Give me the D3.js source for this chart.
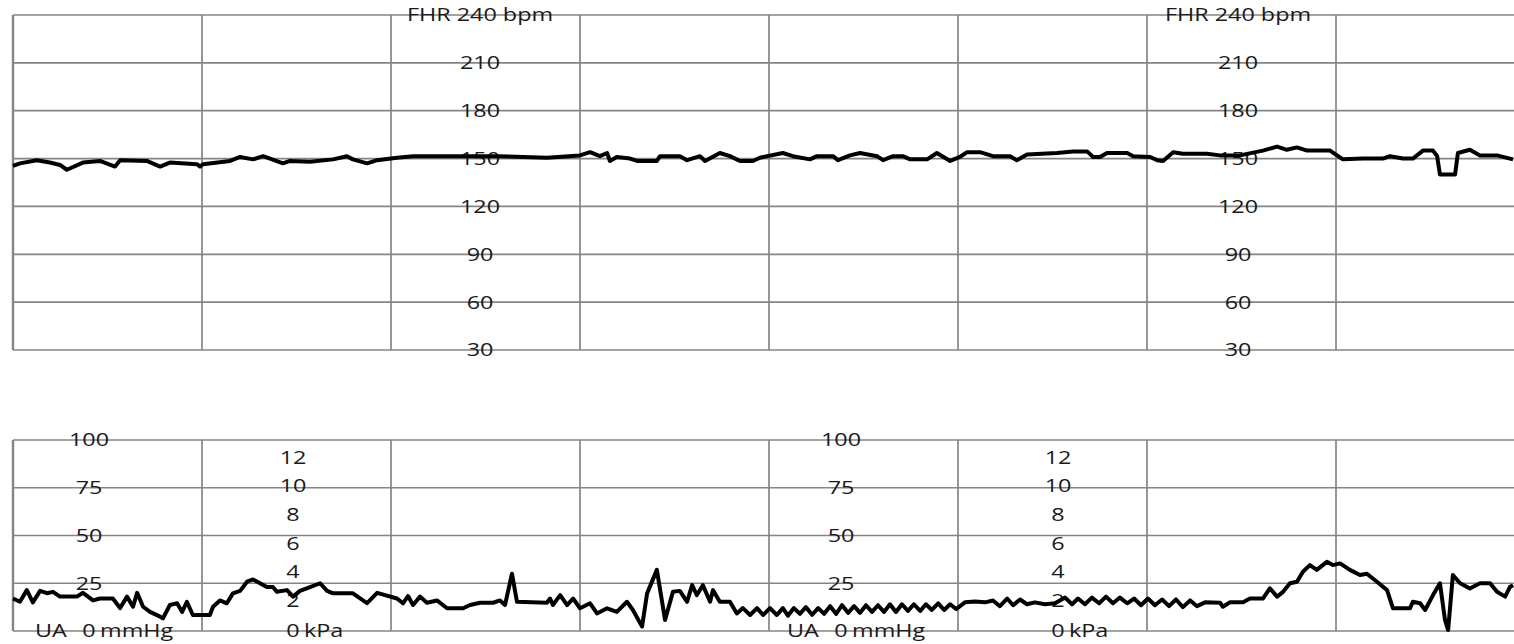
<!DOCTYPE html>
<html>
<head>
<meta charset="utf-8">
<script src="https://cdn.jsdelivr.net/npm/d3@7"></script>
<style>
  body { margin: 0; background: #fff; }
  text { font-family: "Open Sans", "DejaVu Sans", sans-serif; fill: #1a1a1a; }
</style>
</head>
<body>
<div id="chart"></div>
<script>
// time in seconds (one grid column = 60 s)
var fhrSec = [0, 2.2, 7.6, 11.7, 14.9, 17.1, 22.2, 27.6, 32.4, 34, 42.5, 46.7, 49.8, 58.4, 59.4, 60.3, 68.9, 72.1, 76.2, 79.4,
  85.7, 87.9, 94.3, 101.6, 106, 107.9, 112.4, 115.6, 121.9, 127, 148.3, 153.7, 169.5, 180, 183.2, 186.3, 188.6, 189.5, 191.7, 195.9,
  198.1, 204.4, 205.4, 211.7, 214, 218.1, 219.7, 224.4, 227.6, 230.8, 234.9, 237.1, 244.4, 247.6, 253, 255.2, 260.3, 261.9, 265.7, 268.9,
  274.3, 276.2, 279.4, 282.5, 284.8, 290.2, 293.3, 297.5, 300.6, 302.9, 307, 311.1, 316.5, 318.7, 321.9, 331.4, 336.5, 341, 342.9, 345.1,
  347.3, 353.7, 355.6, 361, 363.2, 365.1, 368.3, 371.4, 379, 383.2, 389.5, 396.8, 401.3, 404.4, 407.6, 410.8, 418.1, 422.2, 428.6, 434.9,
  437.1, 441.3, 444.4, 447.6, 450.8, 452.1, 453, 457.8, 458.7, 462.5, 465.7, 471.1, 476.2]
var fhrBpm = [145.4, 147, 149, 147.5, 146, 143, 147.5, 148.5, 145, 149, 148.5, 145, 147.5, 146.5, 145, 146.5, 148.5, 151, 149.5, 151.5,
  147, 148.5, 148, 149.5, 151.5, 149.5, 147, 149, 150.5, 151.5, 151.5, 151.5, 150.5, 152, 154, 151.5, 153.5, 148.5, 151, 150,
  148.5, 148.5, 151.5, 151.5, 149, 151.5, 148.5, 153.5, 151.5, 148.5, 148.5, 150.5, 153.5, 151.5, 149.5, 151.5, 151.5, 149, 152, 153.5,
  151.5, 149, 151.5, 151.5, 149.5, 149.5, 153.5, 148.5, 151, 154, 154, 151.5, 151.5, 149, 152.5, 153.5, 154.5, 154.5, 151, 151,
  153.5, 153.5, 151.5, 151, 149, 148.5, 154, 153, 153, 152, 152, 155, 157.5, 155.5, 157, 155, 155, 149.5, 150, 150,
  151.5, 150, 150, 155, 155, 151.5, 140, 140, 153.5, 155.5, 152, 152, 149.5]

var uaSec = [0, 2.2, 4.4, 6.3, 8.6, 10.8, 12.7, 14.9, 20.3, 22.2, 25.4, 27.6, 31.7, 34, 36.2, 38.1, 39.4, 41.3, 43.5, 46.7,
  47.6, 49.8, 52.1, 53.7, 55.2, 57.1, 62.5, 63.5, 65.7, 67.9, 69.8, 72.1, 74.3, 76.2, 78.4, 80.6, 82.5, 83.8, 87, 88.9,
  91.1, 94.3, 97.5, 99.7, 101.6, 107.9, 112.4, 115.6, 121.9, 123.8, 125.4, 127, 129.2, 131.4, 134.6, 137.8, 142.9, 145.1, 148.3, 152.4,
  154.6, 156.2, 158.4, 160, 169.5, 170.5, 171.4, 173.7, 175.9, 177.8, 180, 183.2, 185.4, 188.6, 191.7, 194.9, 196.8, 199.7, 201.3, 204.4,
  207, 209.5, 211.7, 214, 215.6, 217.1, 219, 221.3, 222.2, 224.4, 227.6, 229.8, 231.7, 234, 236.2, 238.1, 240.3, 242.5, 244.4, 246,
  247.9, 249.8, 251.7, 253.7, 255.6, 257.5, 259.4, 261.3, 263.2, 265.1, 267, 268.9, 270.8, 272.7, 274.6, 276.5, 278.4, 280.3, 282.2, 284.1,
  286, 288, 289.8, 291.7, 293.7, 295.6, 297.5, 299.4, 302.2, 305.4, 308.6, 311.1, 313.3, 315.6, 317.5, 319.7, 321.9, 324.4, 327.6, 330.8,
  334, 336.2, 338.1, 340.3, 342.5, 344.8, 347, 349.2, 351.4, 353.7, 355.9, 358.1, 360.3, 362.5, 364.8, 367, 369.2, 371.4, 373.7, 375.9,
  378.4, 383.2, 384.1, 386.3, 390.5, 392.7, 396.8, 399, 401.3, 403.2, 405.4, 407.6, 409.5, 411.7, 413.9, 417.1, 419, 421.3, 424.4, 427.6,
  429.8, 433, 436.2, 438.1, 443.5, 444.4, 446.7, 448.3, 450.8, 453, 454.6, 455.6, 457.1, 459.4, 462.5, 465.7, 468.9, 471.1, 473.7, 475.2, 476.2]
var uaMmHg = [17, 15.3, 21.4, 15, 21, 19.8, 20.5, 18, 18, 20, 16, 17, 17, 12, 18, 12.7, 20, 12.7, 10, 7.5,
  6.6, 13.6, 14.5, 10, 15.3, 8.4, 8.4, 12.7, 16, 14.5, 19.7, 21, 25.8, 27, 25, 23, 23, 20.5, 21.4, 18,
  21, 23, 25, 21, 19.7, 19.7, 14.6, 20, 17, 14.5, 18.3, 13.6, 18, 14.8, 16, 11.9, 11.9, 13.6, 14.8, 14.8,
  16, 13.6, 30, 15.3, 14.8, 17, 13.6, 18.8, 13.6, 17, 11.9, 14.5, 9.2, 11.9, 10, 15.3, 11, 2.3, 19.7, 32,
  5.8, 20.5, 21, 15.3, 24, 18.8, 24, 15.3, 21.4, 15.3, 15.3, 9.2, 12, 8.4, 12, 8.4, 12, 8.4, 12, 8,
  12, 9, 12.5, 8.5, 12, 9, 13, 9, 13.5, 9.5, 13, 9.5, 13.5, 10, 13.5, 10, 14, 10, 14, 10.5,
  14, 10.5, 14, 11, 14.5, 11, 14, 11.5, 15, 15.5, 15, 16, 13, 17, 13.5, 16.5, 14, 15, 14, 14.5,
  17.5, 14, 17, 14, 17.5, 14.5, 18, 14.5, 17.5, 14.5, 17, 13.5, 17, 13.5, 16.5, 13, 16.5, 12.5, 16, 13,
  15, 14.8, 12.7, 15, 15, 17, 17, 22.3, 18, 20.5, 25, 25.8, 31, 34.5, 32, 36.2, 34.5, 35.4, 32, 29.3,
  30, 25.8, 21.4, 11.9, 11.9, 15.3, 14.5, 11, 18.8, 25, 5.8, 0.5, 29.3, 25, 22.3, 25, 25, 20.5, 18, 23, 24]

var gridSec = [0, 60, 120, 180, 240, 300, 360, 420, 480]
var fhrTicks = [240, 210, 180, 150, 120, 90, 60, 30]
var uaTicks = [100, 75, 50, 25, 0]
var kpaTicks = [12, 10, 8, 6, 4, 2, 0]

// layout
var width = 1514, height = 644
var fhrLabelX = [480, 1238]
var uaLabelX = [89, 841]
var kpaLabelX = [293, 1058]
var stretch = 1.3

var svg = d3.select("#chart").append("svg")
  .attr("width", width)
  .attr("height", height)
svg.append("rect").attr("width", width).attr("height", height).attr("fill", "#fff")

var x = d3.scaleLinear().domain([0, 480]).range([13, 13 + 8 * 189])
var yFhr = d3.scaleLinear().domain([30, 240]).range([350, 15])
var yUa = d3.scaleLinear().domain([0, 100]).range([631, 440])
var yKpa = d3.scaleLinear().domain([0, 100 / 7.5]).range([631, 440])

var grid = svg.append("g").attr("stroke", "#858585").attr("stroke-width", 1.7)

function drawGrid(yScale, ticks) {
  var y0 = d3.min(yScale.range()), y1 = d3.max(yScale.range())
  grid.selectAll(null).data(ticks).enter().append("line")
    .attr("x1", x(0)).attr("x2", width)
    .attr("y1", d => yScale(d)).attr("y2", d => yScale(d))
  grid.selectAll(null).data(gridSec).enter().append("line")
    .attr("x1", d => x(d)).attr("x2", d => x(d))
    .attr("y1", y0).attr("y2", y1)
    .attr("stroke-width", d => d == 0 ? 2.4 : 1.7)
}
drawGrid(yFhr, fhrTicks)
drawGrid(yUa, uaTicks)

// stretched label text like the printout
function label(px, py, txt, anchor) {
  svg.append("text")
    .attr("transform", "translate(" + px + "," + py + ") scale(" + stretch + ",1)")
    .attr("dy", "0.36em")
    .attr("text-anchor", anchor || "middle")
    .style("font-size", "18px")
    .text(txt)
}

fhrLabelX.forEach(function(lx) {
  fhrTicks.forEach(function(t) {
    label(lx, yFhr(t), t == 240 ? "FHR 240 bpm" : t)
  })
})
uaLabelX.forEach(function(lx) {
  uaTicks.forEach(function(t) {
    label(lx, yUa(t), t)
  })
  label(lx - 54, yUa(0), "UA", "start")
  label(lx + 11, yUa(0), "mmHg", "start")
})
kpaLabelX.forEach(function(lx) {
  kpaTicks.forEach(function(t) {
    label(lx, yKpa(t) - (t == 0 ? 0 : 2), t)
  })
  label(lx + 11, yKpa(0), "kPa", "start")
})

// traces
svg.append("clipPath").attr("id", "clip")
  .append("rect").attr("x", x(0) - 2).attr("y", 0).attr("width", width).attr("height", height)

var fhrLine = d3.line().x((d, i) => x(fhrSec[i])).y(d => yFhr(d))
var uaLine = d3.line().x((d, i) => x(uaSec[i])).y(d => yUa(d))

svg.append("path")
  .datum(fhrBpm)
  .attr("clip-path", "url(#clip)")
  .attr("d", fhrLine)
  .attr("fill", "none")
  .attr("stroke", "#000")
  .attr("stroke-width", 4)
  .attr("stroke-linejoin", "round")

svg.append("path")
  .datum(uaMmHg)
  .attr("clip-path", "url(#clip)")
  .attr("d", uaLine)
  .attr("fill", "none")
  .attr("stroke", "#000")
  .attr("stroke-width", 4)
  .attr("stroke-linejoin", "round")
</script>
</body>
</html>
